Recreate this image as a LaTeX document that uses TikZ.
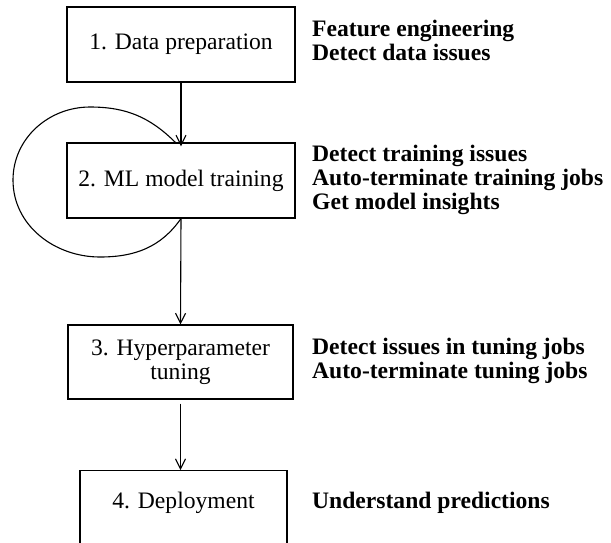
\documentclass[tikz,border=0pt]{standalone}
\usepackage{fontspec}
\setmainfont{Liberation Serif}
\usetikzlibrary{arrows.meta}
\begin{document}
\begin{tikzpicture}[x=1pt,y=-1pt,
  every node/.style={font=\fontsize{23.6}{24.5}\selectfont},
  stage/.style={draw, line width=1.1pt, minimum width=228pt, minimum height=75pt,
    inner sep=0pt, align=center},
  note/.style={anchor=base west, inner sep=0pt,
    font=\fontsize{23.6}{24.5}\selectfont\bfseries},
  flow/.style={line width=1.1pt, -{Straight Barb[length=10pt,width=10pt,line width=1.1pt]}},
  loopline/.style={line width=1.1pt}]
\useasboundingbox (0,0) rectangle (611,542);
\clip (0,0) rectangle (611,542);

% stages
\node[stage] (prep) at (181,44.5) {1. Data preparation};
\node[stage] (train) at (181,180.5) {2. ML model training};
\node[stage, minimum width=225pt, minimum height=74pt] (tune) at (180.5,362)
  {3. Hyperparameter\\tuning};
\node[stage, anchor=north, minimum width=207pt, minimum height=0pt,
  text height=38pt, text depth=52pt] (deploy) at (183.5,470) {4. Deployment};

% connectors
\draw[flow, shorten >=-4pt] (prep.south) -- (train.north);
\draw[flow] (train.south) -- (tune.north);
\draw[flow, shorten <=4pt] (tune.south) -- (tune.south |- deploy.north);

% retraining loop around stage 2
\coordinate (lpB) at (100,257);
\coordinate (lpL) at (13,180);
\coordinate (lpT) at (90,107);
\coordinate (lpEnd) at (176,143);
\draw[loopline] (train.south) to[out=-125,in=0] (lpB)
  to[out=180,in=-90] (lpL) to[out=90,in=180] (lpT) to[out=0,in=135] (lpEnd);

% capabilities per stage
\node[note] (n1a) at (312,36) {Feature engineering};
\node[note] (n1b) at (312,60) {Detect data issues};
\node[note] (n2a) at (312,161) {Detect training issues};
\node[note] (n2b) at (312,185) {Auto-terminate training jobs};
\node[note] (n2c) at (312,209) {Get model insights};
\node[note] (n3a) at (312,354) {Detect issues in tuning jobs};
\node[note] (n3b) at (312,378) {Auto-terminate tuning jobs};
\node[note] (n4a) at (312,508) {Understand predictions};
\end{tikzpicture}
\end{document}
